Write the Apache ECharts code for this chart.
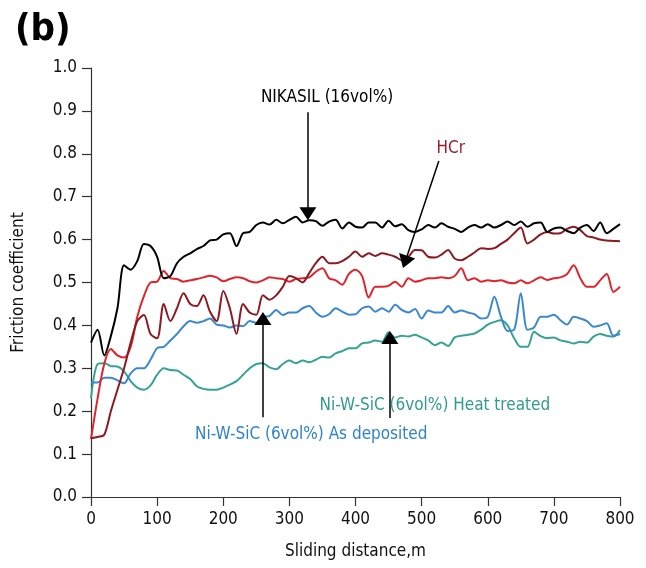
<!DOCTYPE html>
<html><head><meta charset="utf-8">
<script src="https://cdn.jsdelivr.net/npm/echarts@6/dist/echarts.min.js"></script>
<style>html,body{margin:0;padding:0;background:#fff}#c{width:646px;height:568px}</style>
</head><body><div id="c"></div>
<script>
const xs = [0,10,20,30,40,50,60,70,80,90,100,110,120,130,140,150,160,170,180,190,200,210,220,230,240,250,260,270,280,290,300,310,320,330,340,350,360,370,380,390,400,410,420,430,440,450,460,470,480,490,500,510,520,530,540,550,560,570,580,590,600,610,620,630,640,650,660,670,680,690,700,710,720,730,740,750,760,770,780,790,800];
const nikasil = [0.36,0.39,0.33,0.375,0.44,0.54,0.53,0.55,0.59,0.585,0.56,0.51,0.515,0.545,0.56,0.568,0.578,0.585,0.598,0.60,0.612,0.615,0.585,0.615,0.618,0.634,0.64,0.635,0.646,0.638,0.646,0.653,0.64,0.645,0.643,0.632,0.642,0.646,0.626,0.64,0.63,0.628,0.64,0.64,0.628,0.644,0.631,0.636,0.622,0.618,0.624,0.634,0.628,0.638,0.63,0.625,0.618,0.628,0.634,0.628,0.636,0.628,0.634,0.642,0.634,0.642,0.63,0.638,0.64,0.618,0.626,0.628,0.62,0.615,0.628,0.634,0.62,0.64,0.615,0.625,0.636];
const hcr = [0.137,0.14,0.145,0.2,0.25,0.3,0.36,0.41,0.424,0.38,0.37,0.45,0.41,0.44,0.475,0.45,0.445,0.47,0.432,0.41,0.48,0.44,0.38,0.45,0.43,0.425,0.47,0.46,0.47,0.49,0.515,0.51,0.5,0.522,0.545,0.56,0.545,0.545,0.55,0.56,0.572,0.56,0.568,0.562,0.568,0.565,0.56,0.552,0.56,0.576,0.575,0.56,0.558,0.565,0.576,0.556,0.552,0.56,0.57,0.58,0.578,0.58,0.59,0.6,0.615,0.628,0.591,0.6,0.612,0.618,0.614,0.615,0.625,0.63,0.622,0.608,0.605,0.6,0.598,0.597,0.596];
const red = [0.135,0.23,0.31,0.345,0.33,0.325,0.35,0.42,0.468,0.5,0.502,0.527,0.51,0.508,0.502,0.505,0.508,0.512,0.516,0.512,0.503,0.508,0.512,0.51,0.503,0.5,0.505,0.512,0.51,0.508,0.502,0.508,0.51,0.512,0.525,0.533,0.51,0.505,0.495,0.52,0.53,0.515,0.465,0.49,0.49,0.492,0.502,0.49,0.51,0.502,0.505,0.51,0.51,0.512,0.51,0.515,0.533,0.505,0.51,0.502,0.505,0.503,0.505,0.5,0.498,0.505,0.498,0.505,0.512,0.506,0.51,0.512,0.52,0.54,0.51,0.49,0.49,0.505,0.52,0.478,0.49];
const asDeposited = [0.267,0.267,0.278,0.278,0.272,0.265,0.288,0.3,0.3,0.32,0.347,0.35,0.365,0.38,0.398,0.41,0.406,0.41,0.416,0.402,0.4,0.395,0.4,0.398,0.41,0.406,0.42,0.422,0.436,0.424,0.43,0.43,0.44,0.445,0.43,0.42,0.426,0.44,0.432,0.425,0.426,0.44,0.444,0.432,0.44,0.432,0.448,0.436,0.43,0.438,0.416,0.435,0.43,0.43,0.445,0.43,0.435,0.43,0.426,0.416,0.42,0.467,0.42,0.387,0.39,0.475,0.39,0.395,0.42,0.42,0.425,0.412,0.402,0.42,0.416,0.41,0.397,0.4,0.405,0.376,0.38];
const heatTreated = [0.23,0.31,0.312,0.305,0.304,0.293,0.27,0.255,0.25,0.26,0.285,0.3,0.296,0.295,0.285,0.275,0.258,0.252,0.25,0.25,0.255,0.262,0.27,0.285,0.3,0.31,0.312,0.302,0.298,0.31,0.318,0.312,0.318,0.314,0.32,0.327,0.325,0.335,0.34,0.347,0.347,0.358,0.36,0.365,0.362,0.384,0.372,0.376,0.374,0.378,0.372,0.365,0.354,0.36,0.352,0.372,0.376,0.378,0.381,0.39,0.402,0.408,0.412,0.4,0.37,0.35,0.35,0.385,0.375,0.37,0.372,0.365,0.362,0.358,0.362,0.36,0.374,0.38,0.376,0.374,0.389];
const yTicks = [0,0.1,0.2,0.3,0.4,0.5,0.6,0.7,0.8,0.9,1.0];
const xTicks = [0,100,200,300,400,500,600,700,800];

const FONT = "'Liberation Sans Narrow','Arial Narrow','DejaVu Sans Condensed',sans-serif";
const pair = a => xs.map((x,i)=>[x,a[i]]);
const chart = echarts.init(document.getElementById('c'), null, {renderer:'canvas'});

function arrow(x1,y1,x2,y2){
  return [{coord:[x1,y1],symbol:'none'},{coord:[x2,y2],symbol:'triangle',symbolSize:[17,13]}];
}
function note(text,x,y,color){
  return {coord:[x,y],symbol:'circle',symbolSize:0,
    label:{show:true,position:'inside',formatter:text,color:color,fontFamily:FONT,fontSize:17}};
}

const common = {type:'line',showSymbol:false,symbol:'none',smooth:0.3,lineStyle:{width:2},z:3};

chart.setOption({
  animation:false,
  backgroundColor:'#fff',
  title:{text:'(b)',left:10,top:6,textStyle:{fontFamily:FONT,fontSize:38,fontWeight:'bold',color:'#000'}},
  grid:{left:91,right:26,top:68,bottom:71},
  xAxis:{type:'value',min:0,max:800,interval:100,
    name:'Sliding distance,m',nameLocation:'middle',nameGap:46,
    nameTextStyle:{fontFamily:FONT,fontSize:17,color:'#111'},
    axisLine:{show:true,lineStyle:{color:'#333',width:1.2}},
    axisTick:{show:true,inside:false,length:9,lineStyle:{color:'#333',width:1.2}},
    axisLabel:{margin:14,fontFamily:FONT,fontSize:17,color:'#111'},
    splitLine:{show:false}},
  yAxis:{type:'value',min:0,max:1,interval:0.1,
    name:'Friction coefficient',nameLocation:'middle',nameGap:64,nameRotate:90,
    nameTextStyle:{fontFamily:FONT,fontSize:17,color:'#111'},
    axisLine:{show:true,lineStyle:{color:'#333',width:1.2}},
    axisTick:{show:true,inside:false,length:9,lineStyle:{color:'#333',width:1.2}},
    axisLabel:{margin:14,fontFamily:FONT,fontSize:17,color:'#111',formatter:v=>v.toFixed(1)},
    splitLine:{show:false}},
  series:[
    Object.assign({},common,{name:'Ni-W-SiC (6vol%) Heat treated',data:pair(heatTreated),color:'#35a393',
      markLine:{silent:true,animation:false,lineStyle:{color:'#000',width:1.5,type:'solid'},label:{show:false},
        data:[arrow(452,0.184,452,0.372)]},
      markPoint:{silent:true,animation:false,data:[note('Ni-W-SiC (6vol%) Heat treated',520,0.212,'#2f9c8c')]}}),
    Object.assign({},common,{name:'Ni-W-SiC (6vol%) As deposited',data:pair(asDeposited),color:'#3a87d2',
      markLine:{silent:true,animation:false,lineStyle:{color:'#000',width:1.5,type:'solid'},label:{show:false},
        data:[arrow(260,0.186,260,0.416)]},
      markPoint:{silent:true,animation:false,data:[note('Ni-W-SiC (6vol%) As deposited',333,0.145,'#2f82cc')]}}),
    Object.assign({},common,{name:'Red',data:pair(red),color:'#e0242b'}),
    Object.assign({},common,{name:'HCr',data:pair(hcr),color:'#8c1a22',
      markLine:{silent:true,animation:false,lineStyle:{color:'#000',width:1.5,type:'solid'},label:{show:false},
        data:[arrow(526,0.783,475,0.548)]},
      markPoint:{silent:true,animation:false,data:[note('HCr',544,0.813,'#9a1f2a')]}}),
    Object.assign({},common,{name:'NIKASIL (16vol%)',data:pair(nikasil),color:'#000',
      markLine:{silent:true,animation:false,lineStyle:{color:'#000',width:1.5,type:'solid'},label:{show:false},
        data:[arrow(328,0.897,328,0.66)]},
      markPoint:{silent:true,animation:false,data:[note('NIKASIL (16vol%)',357,0.932,'#000')]}})
  ]
});
</script></body></html>
